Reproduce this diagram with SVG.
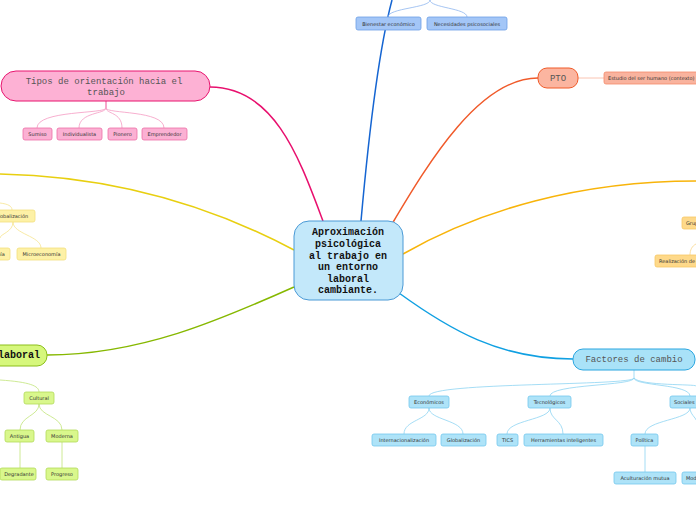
<svg xmlns="http://www.w3.org/2000/svg" width="696" height="520" viewBox="0 0 696 520">
<style>
.main{fill:none;stroke-width:1.5}
.sub{fill:none;stroke-width:0.8}
.lbl{font-family:"DejaVu Sans",Verdana,sans-serif;font-size:5px;fill:#333;text-anchor:middle}
.mono{font-family:"Liberation Mono","Courier New",monospace;font-size:9px;fill:#555;text-anchor:middle}
.monob{font-family:"Liberation Mono","Courier New",monospace;font-size:10px;font-weight:bold;fill:#111;text-anchor:middle}
.bl{fill:#a3c6f7;stroke:#6c9fe6;stroke-width:0.8}
.pk{fill:#fbb0d3;stroke:#ee6fa7;stroke-width:0.8}
.or{fill:#f9b39e;stroke:#f58a6a;stroke-width:0.8}
.ye{fill:#fdf1a6;stroke:#f3df7f;stroke-width:0.8}
.yo{fill:#fed98a;stroke:#f7c865;stroke-width:0.8}
.gr{fill:#d9f78c;stroke:#b3db59;stroke-width:0.8}
.cy{fill:#aee3f8;stroke:#74c8ee;stroke-width:0.8}
</style>
<rect width="696" height="520" fill="#ffffff"/>
<g id="connectors">
<path class="main" stroke="#1565d2" d="M361,221 C370,120 380,45 392,0"/>
<path class="main" stroke="#e8106e" d="M323,221 C300,160 275,87 210,87"/>
<path class="main" stroke="#f05a2a" d="M392,224 C430,160 480,78 538,78"/>
<path class="main" stroke="#e8cf10" d="M294,250 C200,200 100,176 0,174"/>
<path class="main" stroke="#f8b40a" d="M403,254 C480,210 580,181 696,181"/>
<path class="main" stroke="#86b800" d="M294,287 C220,320 140,355 47,355"/>
<path class="main" stroke="#10a0e2" d="M399,293 C450,330 500,359 573,359"/>
<g stroke="#8fb6ef">
<path class="sub" d="M430,0 C430,8 388,8 388,17"/>
<path class="sub" d="M430,0 C430,8 467,8 467,17"/>
</g>
<g stroke="#f59ac3">
<path class="sub" d="M106,101 L106,108 C106,114 37,110 37,128"/>
<path class="sub" d="M106,101 L106,108 C106,114 79,112 79,128"/>
<path class="sub" d="M106,101 L106,108 C106,114 122,112 122,128"/>
<path class="sub" d="M106,101 L106,108 C106,114 164,110 164,128"/>
</g>
<path class="sub" stroke="#f9b59e" d="M578,78 L604,78"/>
<g stroke="#f6e48f">
<path class="sub" d="M0,203 C8,204 12,206 12,210"/>
<path class="sub" d="M13,222 C13,232 0,234 0,238"/>
<path class="sub" d="M13,222 C13,234 41,236 41,248"/>
</g>
<path class="sub" stroke="#f9d58a" d="M696,244 C692,246 690,250 690,255"/>
<g stroke="#c2e47a">
<path class="sub" d="M0,380 C30,382 39,386 39,392"/>
<path class="sub" d="M39,404 C39,416 20,416 20,430"/>
<path class="sub" d="M39,404 C39,416 62,416 62,430"/>
<path class="sub" d="M20,442 L20,468"/>
<path class="sub" d="M62,442 L62,468"/>
</g>
<g stroke="#8ed4f2">
<path class="sub" d="M634,370 L634,378 C634,386 429,382 429,396"/>
<path class="sub" d="M634,378 C634,386 550,384 550,396"/>
<path class="sub" d="M634,378 C634,386 690,384 690,396"/>
<path class="sub" d="M634,378 C640,386 696,384 696,386"/>
<path class="sub" d="M429,408 C429,420 404,420 404,434"/>
<path class="sub" d="M429,408 C429,420 463,420 463,434"/>
<path class="sub" d="M550,408 C550,420 507,420 507,434"/>
<path class="sub" d="M550,408 C550,420 563,420 563,434"/>
<path class="sub" d="M690,408 C690,420 645,420 645,434"/>
<path class="sub" d="M690,408 C690,414 696,418 696,420"/>
<path class="sub" d="M645,446 L645,472"/>
</g>
</g>
<g id="central">
<rect x="294" y="221" width="109" height="79" rx="15" fill="#c3e8fa" stroke="#4a9ad6" stroke-width="1"/>
<text class="monob" x="348" y="235">Aproximación</text>
<text class="monob" x="348" y="247">psicológica</text>
<text class="monob" x="348" y="259">al trabajo en</text>
<text class="monob" x="348" y="270">un entorno</text>
<text class="monob" x="348" y="282">laboral</text>
<text class="monob" x="348" y="293">cambiante.</text>
</g>
<g id="bienestar"><rect class="bl" x="356" y="17" width="65" height="13" rx="2"/><text class="lbl" x="388.5" y="25.5">Bienestar económico</text></g>
<g id="necesidades"><rect class="bl" x="427" y="17" width="80" height="13" rx="2"/><text class="lbl" x="467" y="25.5">Necesidades psicosociales</text></g>
<g id="tipos">
<rect x="1" y="71" width="209" height="30" rx="15" fill="#fdb1d4" stroke="#e8146f" stroke-width="1"/>
<text class="mono" x="104" y="84">Tipos de orientación hacia el</text>
<text class="mono" x="106" y="95">trabajo</text>
</g>
<g id="sumiso"><rect class="pk" x="23" y="128" width="29" height="12" rx="2"/><text class="lbl" x="37.5" y="136">Sumiso</text></g>
<g id="individualista"><rect class="pk" x="57" y="128" width="45" height="12" rx="2"/><text class="lbl" x="79.5" y="136">Individualista</text></g>
<g id="pionero"><rect class="pk" x="108" y="128" width="29" height="12" rx="2"/><text class="lbl" x="122.5" y="136">Pionero</text></g>
<g id="emprendedor"><rect class="pk" x="142" y="128" width="45" height="12" rx="2"/><text class="lbl" x="164.5" y="136">Emprendedor</text></g>
<g id="pto">
<rect x="538" y="68" width="40" height="20" rx="9" fill="#fbb5a0" stroke="#f05a28" stroke-width="1"/>
<text class="mono" x="558" y="81">PTO</text>
</g>
<g id="estudio"><rect class="or" x="604" y="72" width="96" height="12" rx="2"/><text class="lbl" x="608" y="80" style="text-anchor:start">Estudio del ser humano (contexto)</text></g>
<g id="globalizacion1"><rect class="ye" x="-12" y="210" width="47" height="12" rx="2"/><text class="lbl" x="11.5" y="218">Globalización</text></g>
<g id="macro"><rect class="ye" x="-40" y="248" width="50" height="12" rx="2"/><text class="lbl" x="-15" y="256">Macroeconomía</text></g>
<g id="micro"><rect class="ye" x="17" y="248" width="49" height="12" rx="2"/><text class="lbl" x="41.5" y="256">Microeconomía</text></g>
<g id="grupo"><rect class="yo" x="682" y="217" width="30" height="12" rx="2"/><text class="lbl" x="686" y="225" style="text-anchor:start">Grupos</text></g>
<g id="realizacion"><rect class="yo" x="655" y="255" width="60" height="12" rx="2"/><text class="lbl" x="659" y="263" style="text-anchor:start">Realización de</text></g>
<g id="laboral">
<rect x="-60" y="345" width="107" height="21" rx="10" fill="#d6f77c" stroke="#8cbf1a" stroke-width="1"/>
<text class="monob" x="-2" y="358" style="text-anchor:start">laboral</text>
</g>
<g id="cultural"><rect class="gr" x="24" y="392" width="30" height="12" rx="2"/><text class="lbl" x="39" y="400">Cultural</text></g>
<g id="antigua"><rect class="gr" x="5" y="430" width="29" height="12" rx="2"/><text class="lbl" x="19.5" y="438">Antigua</text></g>
<g id="moderna"><rect class="gr" x="46" y="430" width="32" height="12" rx="2"/><text class="lbl" x="62" y="438">Moderna</text></g>
<g id="degradante"><rect class="gr" x="0" y="468" width="36" height="12" rx="2"/><text class="lbl" x="19" y="476">Degradante</text></g>
<g id="progreso"><rect class="gr" x="46" y="468" width="32" height="12" rx="2"/><text class="lbl" x="62" y="476">Progreso</text></g>
<g id="factores">
<rect x="573" y="349" width="122" height="21" rx="10" fill="#a9e2f8" stroke="#2aa6e0" stroke-width="1"/>
<text class="mono" x="634" y="362">Factores de cambio</text>
</g>
<g id="economicos"><rect class="cy" x="409" y="396" width="40" height="12" rx="2"/><text class="lbl" x="429" y="404">Económicos</text></g>
<g id="tecnologicos"><rect class="cy" x="528" y="396" width="43" height="12" rx="2"/><text class="lbl" x="549.5" y="404">Tecnológicos</text></g>
<g id="sociales"><rect class="cy" x="670" y="396" width="40" height="12" rx="2"/><text class="lbl" x="674" y="404" style="text-anchor:start">Sociales</text></g>
<g id="internacionalizacion"><rect class="cy" x="372" y="434" width="64" height="12" rx="2"/><text class="lbl" x="404" y="442">Internacionalización</text></g>
<g id="globalizacion2"><rect class="cy" x="441" y="434" width="45" height="12" rx="2"/><text class="lbl" x="463.5" y="442">Globalización</text></g>
<g id="tics"><rect class="cy" x="497" y="434" width="21" height="12" rx="2"/><text class="lbl" x="507.5" y="442">TICS</text></g>
<g id="herramientas"><rect class="cy" x="524" y="434" width="79" height="12" rx="2"/><text class="lbl" x="563.5" y="442">Herramientas inteligentes</text></g>
<g id="politica"><rect class="cy" x="631" y="434" width="27" height="12" rx="2"/><text class="lbl" x="644.5" y="442">Política</text></g>
<g id="aculturacion"><rect class="cy" x="614" y="472" width="62" height="12" rx="2"/><text class="lbl" x="645" y="480">Aculturación mutua</text></g>
<g id="moderna2"><rect class="cy" x="682" y="472" width="40" height="12" rx="2"/><text class="lbl" x="686" y="480" style="text-anchor:start">Modernidad</text></g>
</svg>
